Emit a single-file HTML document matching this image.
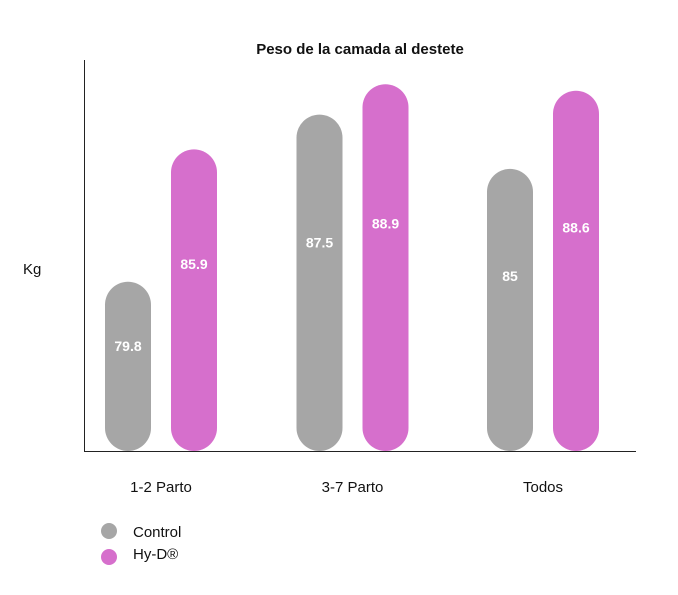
<!DOCTYPE html>
<html><head><meta charset="utf-8"><style>
body{margin:0;background:#fff;font-family:"Liberation Sans",sans-serif;}
svg text{font-family:"Liberation Sans",sans-serif;}
</style></head><body>
<svg id="chart" width="678" height="590" xmlns="http://www.w3.org/2000/svg">
<text x="360" y="54" text-anchor="middle" font-size="15" font-weight="bold" fill="#111">Peso de la camada al destete</text>
<text x="23" y="274" font-size="15" fill="#111">Kg</text>
<line x1="84.5" y1="60" x2="84.5" y2="451" stroke="#222" stroke-width="1"/>
<line x1="84" y1="451.5" x2="636" y2="451.5" stroke="#222" stroke-width="1"/>
<g id="bars"></g>
<g>
<circle cx="109" cy="531" r="8" fill="#a6a6a6"/>
<text x="133" y="537" font-size="15" fill="#111">Control</text>
<circle cx="109" cy="557" r="8" fill="#d66fcc"/>
<text x="133" y="559" font-size="15" fill="#111">Hy-D®</text>
</g>
</svg>
<script>
const categories = ["1-2 Parto","3-7 Parto","Todos"];
const controlValues = [79.8, 87.5, 85];
const hydValues = [85.9, 88.9, 88.6];
const labelsControl = ["79.8","87.5","85"];
const labelsHyd = ["85.9","88.9","88.6"];

const NS="http://www.w3.org/2000/svg";
const base=451, yMin=72, scale=21.7;
function y(v){return base-(v-yMin)*scale;}
const groupCenters=[161,352.5,543];
const g=document.getElementById('bars');
function mk(tag,attrs){const e=document.createElementNS(NS,tag);for(const k in attrs)e.setAttribute(k,attrs[k]);return e;}
categories.forEach((c,i)=>{
  [[controlValues,labelsControl,"#a6a6a6",-33,"control"],[hydValues,labelsHyd,"#d66fcc",33,"hyd"]].forEach(([vals,labs,col,off,nm])=>{
    const cx=groupCenters[i]+off, top=y(vals[i]), h=base-top;
    const r=mk('rect',{x:cx-23,y:top,width:46,height:h,rx:23,ry:23,fill:col});
    
    
    g.appendChild(r);
    const t=mk('text',{x:cx,y:top+h*0.38+5,'text-anchor':'middle','font-size':14,'font-weight':'bold',fill:'#fff'});
    
    
    t.textContent=labs[i];g.appendChild(t);
  });
  const t=mk('text',{x:groupCenters[i],y:492,'text-anchor':'middle','font-size':15,fill:'#111'});
  
  
  t.textContent=c;g.appendChild(t);
});
</script>
</body></html>
